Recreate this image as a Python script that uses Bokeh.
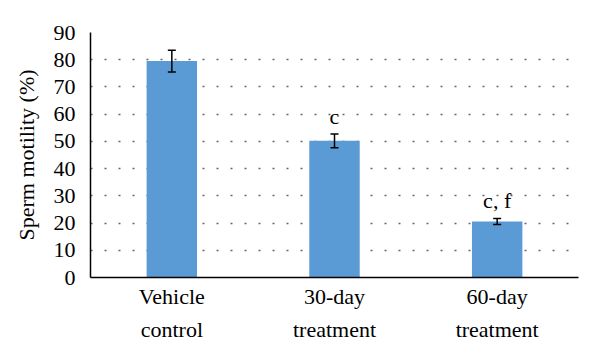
from bokeh.plotting import figure
from bokeh.models import (Range1d, ColumnDataSource, Whisker, TeeHead, LinearAxis, FixedTicker,
                          SingleIntervalTicker, CustomJSTickFormatter)
from bokeh.core.properties import value
from bokeh.embed import file_html
from bokeh.resources import INLINE

categories = ["Vehicle control", "30-day treatment", "60-day treatment"]
label_line1 = ["Vehicle", "30-day", "60-day"]
label_line2 = ["control", "treatment", "treatment"]
motility = [79.5, 50.2, 20.6]
errors = [4.0, 2.5, 1.1]
letters = ["", "c", "c, f"]

FONT = "Liberation Serif"

pos = list(range(len(categories)))
upper = [v + e for v, e in zip(motility, errors)]
src = ColumnDataSource(dict(
    x=pos, top=motility,
    upper=upper,
    lower=[v - e for v, e in zip(motility, errors)],
    letters=letters,
    letter_y=[u + 2.0 for u in upper],
))

p = figure(width=584, height=344, x_range=Range1d(-0.5, len(categories) - 0.5), y_range=Range1d(0, 90),
           output_backend="svg", toolbar_location=None, x_axis_location=None,
           min_border_left=90, min_border_right=6, min_border_top=32, min_border_bottom=60)
p.outline_line_color = None

p.vbar(x="x", top="top", width=0.31, source=src, fill_color="#5B9BD5", line_color=None)

w = Whisker(base="x", upper="upper", lower="lower", source=src, line_color="black", line_width=1.5,
            upper_head=TeeHead(size=8, line_color="black", line_width=1.5),
            lower_head=TeeHead(size=8, line_color="black", line_width=1.5))
w.level = "overlay"
p.add_layout(w)

p.text(x="x", y="letter_y", text="letters", source=src, text_align="center", text_baseline="bottom",
       text_font=value(FONT), text_font_size="22px", text_color="black")

# y axis
p.yaxis.ticker = SingleIntervalTicker(interval=10)
p.yaxis.axis_label = "Sperm motility (%)"
p.yaxis.axis_label_text_font = FONT
p.yaxis.axis_label_text_font_style = "normal"
p.yaxis.axis_label_text_font_size = "22px"
p.yaxis.axis_label_text_color = "black"
p.yaxis.axis_label_standoff = 12
p.yaxis.major_label_text_font = FONT
p.yaxis.major_label_text_font_size = "22px"
p.yaxis.major_label_text_color = "black"
p.yaxis.major_label_standoff = 9
p.yaxis.major_tick_line_color = None
p.yaxis.minor_tick_line_color = None
p.yaxis.axis_line_color = "black"
p.yaxis.axis_line_width = 1.5

def make_xaxis(lines, standoff, line_color):
    ax = LinearAxis()
    ax.ticker = FixedTicker(ticks=pos)
    ax.formatter = CustomJSTickFormatter(args=dict(labels=lines),
                                         code="return labels[Math.round(tick)];")
    ax.major_label_text_font = FONT
    ax.major_label_text_font_style = "normal"
    ax.major_label_text_font_size = "22px"
    ax.major_label_text_color = "black"
    ax.major_label_standoff = standoff
    ax.major_tick_line_color = None
    ax.major_tick_out = 0
    ax.major_tick_in = 0
    ax.minor_tick_line_color = None
    ax.minor_tick_out = 0
    ax.minor_tick_in = 0
    ax.axis_line_color = line_color
    ax.axis_line_width = 1.5
    p.add_layout(ax, "below")
    return ax

make_xaxis(label_line1, 6, "black")
make_xaxis(label_line2, 5, None)

p.xgrid.grid_line_color = None
p.ygrid.grid_line_color = "#666666"
p.ygrid.grid_line_width = 1.5
p.ygrid.grid_line_dash = "2 12"

open("out.html", "w").write(file_html(p, INLINE))
